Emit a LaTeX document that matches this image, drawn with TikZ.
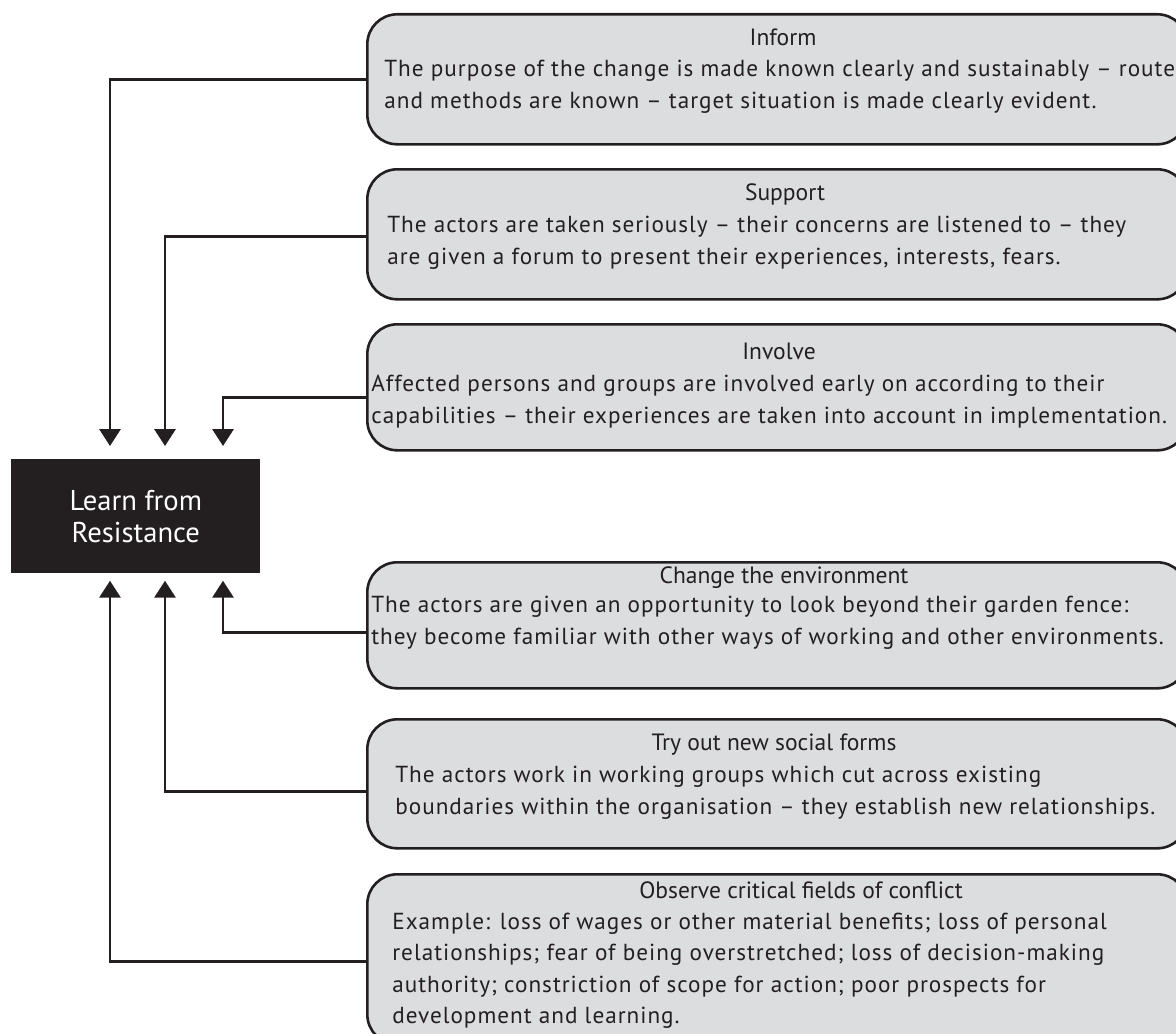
\documentclass[tikz,border=0pt]{standalone}
\usepackage{fontspec}
\setmainfont{PT Sans}
\usetikzlibrary{arrows.meta}
\newdimen\pxu \pxu=0.02cm
\definecolor{ink}{HTML}{231F20}
\definecolor{panelgray}{HTML}{DCDDDF}
\newfontfamily\bodyfont[LetterSpace=4.3]{PT Sans}
\begin{document}
\begin{tikzpicture}[x=0.02cm, y=-0.02cm,
  panel/.style={draw=ink, line width=2.6\pxu, fill=panelgray, rounded corners=30\pxu,
    minimum width=820\pxu, anchor=north west, inner sep=0pt},
  ttl/.style={anchor=base, inner sep=0pt, text=ink, font=\fontsize{13.4pt}{16pt}\selectfont},
  bdy/.style={anchor=base west, inner sep=0pt, text=ink, font=\bodyfont\fontsize{13.2pt}{16pt}\selectfont},
  link/.style={draw=ink, line width=1.7pt, -{Triangle[width=11.9pt, length=9.6pt]}},
  core/.style={fill=ink, minimum width=249\pxu, minimum height=114\pxu, anchor=north west,
    text=white, align=center, inner sep=0pt, font=\fontsize{16.3pt}{18.4pt}\selectfont}
]
\useasboundingbox (0,0) rectangle (1176,1034);

% central block
\node[core] (lr) at (11,459) {Learn from\\Resistance};

% text panels (right edges run past the page edge)
\node[panel, minimum height=130\pxu] (b1) at (366,13) {};
\node[panel, minimum height=130\pxu] (b2) at (366,168) {};
\node[panel, minimum height=126\pxu] (b3) at (366,323) {};
\node[panel, minimum height=126\pxu] (b4) at (366,561) {};
\node[panel, minimum height=129\pxu] (b5) at (366,718) {};
\node[panel, minimum height=170\pxu] (b6) at (366,873) {};

% panel texts
\node[ttl] (t1) at (783,46) {Inform};
\node[bdy] (t1a) at (384,77) {The purpose of the change is made known clearly and sustainably – route};
\node[bdy] (t1b) at (384,109) {and methods are known – target situation is made clearly evident.};

\node[ttl] (t2) at (785,200) {Support};
\node[bdy] (t2a) at (387,232) {The actors are taken seriously – their concerns are listened to – they};
\node[bdy] (t2b) at (387,264) {are given a forum to present their experiences, interests, fears.};

\node[ttl] (t3) at (779,359) {Involve};
\node[bdy] (t3a) at (371,391) {Affected persons and groups are involved early on according to their};
\node[bdy] (t3b) at (371,423) {capabilities – their experiences are taken into account in implementation.};

\node[ttl] (t4) at (784,583) {Change the environment};
\node[bdy] (t4a) at (371,612) {The actors are given an opportunity to look beyond their garden fence:};
\node[bdy] (t4b) at (371,644) {they become familiar with other ways of working and other environments.};

\node[ttl] (t5) at (774,750) {Try out new social forms};
\node[bdy] (t5a) at (395,782) {The actors work in working groups which cut across existing};
\node[bdy] (t5b) at (395,814) {boundaries within the organisation – they establish new relationships.};

\node[ttl] (t6) at (801,898) {Observe critical fields of conflict};
\node[bdy] (t6a) at (392,929) {Example: loss of wages or other material benefits; loss of personal};
\node[bdy] (t6b) at (392,960) {relationships; fear of being overstretched; loss of decision-making};
\node[bdy] (t6c) at (392,992) {authority; constriction of scope for action; poor prospects for};
\node[bdy] (t6d) at (392,1023) {development and learning.};

% connector columns above and below the central block
\coordinate (cA) at (110,0);
\coordinate (cB) at (165,0);
\coordinate (cC) at (223,0);

\draw[link, shorten >=7.4pt] ([yshift=0pt]b1.west) -| (lr.north -| cA);
\draw[link, shorten >=7.4pt] ([yshift=-1.1pt]b2.west) -| (lr.north -| cB);
\draw[link, shorten >=7.4pt] ([yshift=-5.7pt]b3.west) -| (lr.north -| cC);
\draw[link, shorten >=4pt] ([yshift=-4pt]b4.west) -| (lr.south -| cC);
\draw[link, shorten >=4pt] ([yshift=-4.5pt]b5.west) -| (lr.south -| cB);
\draw[link, shorten >=4pt] ([yshift=-1.1pt]b6.west) -| (lr.south -| cA);
\end{tikzpicture}
\end{document}
